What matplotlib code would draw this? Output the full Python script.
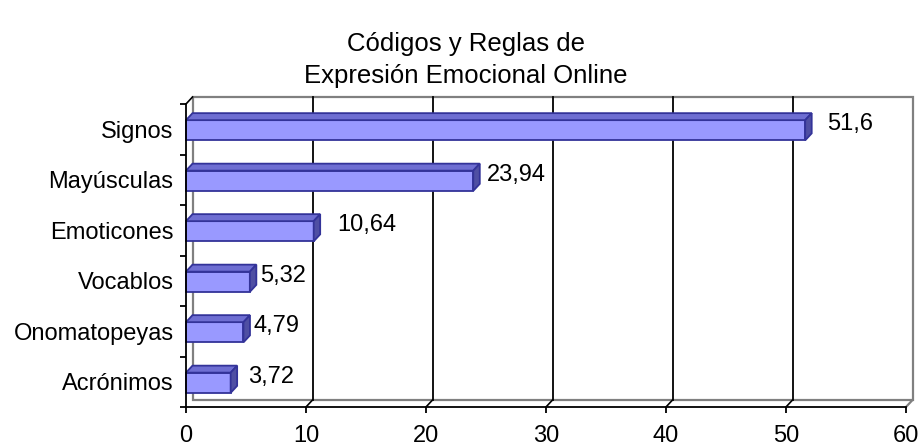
import numpy as np
import matplotlib.pyplot as plt
from matplotlib.patches import Polygon, Rectangle

plt.rcParams['font.family'] = ['Liberation Sans', 'DejaVu Sans']

# Datos
categorias = ['Signos', 'Mayúsculas', 'Emoticones', 'Vocablos', 'Onomatopeyas', 'Acrónimos']
valores = [51.6, 23.94, 10.64, 5.32, 4.79, 3.72]
xticks = [0, 10, 20, 30, 40, 50, 60]
titulo = 'Códigos y Reglas de\nExpresión Emocional Online'

# desplazamiento de las etiquetas (pixeles desde el final de la barra)
label_dx = [15, 7, 17, 4, 4, 11]

W, H = 921, 448
fig = plt.figure(figsize=(W / 100, H / 100), dpi=100)
left, right, top, bottom = 186, 906, 104, 407
ax = fig.add_axes([left / W, 1 - bottom / H, (right - left) / W, (bottom - top) / H])

n = len(categorias)
ypos = np.arange(n)[::-1]
xmax = xticks[-1]
ax.set_xlim(0, xmax)
ax.set_ylim(-0.5, n - 0.5)

# profundidad 3D en unidades de datos
px_x = (right - left) / xmax
px_y = (bottom - top) / n
ddx = 6.5 / px_x
ddy = 7 / px_y

gris = '#808080'
# pared del fondo
ax.add_patch(Rectangle((ddx, -0.5 + ddy), xmax, n, facecolor='white',
                       edgecolor=gris, lw=1.6, clip_on=False, zorder=0))
ax.plot([0, ddx], [n - 0.5, n - 0.5 + ddy], color='black', lw=1.2, clip_on=False, zorder=1)
ax.plot([xmax, xmax + ddx], [-0.5, -0.5 + ddy], color=gris, lw=1.6, clip_on=False, zorder=1)

# lineas de division
for xv in xticks[1:-1]:
    ax.plot([xv + ddx, xv + ddx], [-0.5 + ddy, n - 0.5 + ddy], color='black', lw=1.3,
            clip_on=False, zorder=1)
    ax.plot([xv, xv + ddx], [-0.5, -0.5 + ddy], color='black', lw=1.2, clip_on=False, zorder=1)

# barras
h = 0.4
frente = '#9999FF'
borde = '#333399'
for y, v, dxl in zip(ypos, valores, label_dx):
    yc = y - 1 / px_y
    b = yc - h / 2
    t = yc + h / 2
    ax.add_patch(Rectangle((0, b), v, h, facecolor=frente, edgecolor=borde, lw=1.3,
                           clip_on=False, zorder=3))
    ax.add_patch(Polygon([(0, t), (v, t), (v + ddx, t + ddy), (ddx, t + ddy)],
                         closed=True, facecolor='#6E6ED2', edgecolor=borde, lw=1.3,
                         clip_on=False, zorder=3))
    ax.add_patch(Polygon([(v, b), (v, t), (v + ddx, t + ddy), (v + ddx, b + ddy)],
                         closed=True, facecolor='#4F4FA3', edgecolor=borde, lw=1.3,
                         clip_on=False, zorder=3))
    ax.annotate(str(v).replace('.', ','), xy=(v + ddx, y), xytext=(dxl, 5),
                textcoords='offset pixels', va='center', ha='left', fontsize=17,
                annotation_clip=False)

# ejes
for s in ['top', 'right']:
    ax.spines[s].set_visible(False)
for s in ['left', 'bottom']:
    ax.spines[s].set_linewidth(1.3)
    ax.spines[s].set_zorder(4)
ax.set_facecolor('none')

ax.set_xticks(xticks)
ax.set_xticklabels([str(x) for x in xticks], fontsize=17)
ax.tick_params(axis='x', direction='out', length=4, width=1.3, pad=9)

ax.set_yticks(np.arange(-0.5, n, 1.0))
ax.set_yticklabels([])
ax.set_yticks(ypos, minor=True)
ax.set_yticklabels(categorias, minor=True, fontsize=17)
ax.tick_params(axis='y', which='major', direction='out', length=4, width=1.3)
ax.tick_params(axis='y', which='minor', length=0, pad=9)

fig.text(466 / W, 1 - 60 / H, titulo, ha='center', va='center', fontsize=18.5,
         linespacing=1.45)

fig.savefig('out.png', dpi=100)
